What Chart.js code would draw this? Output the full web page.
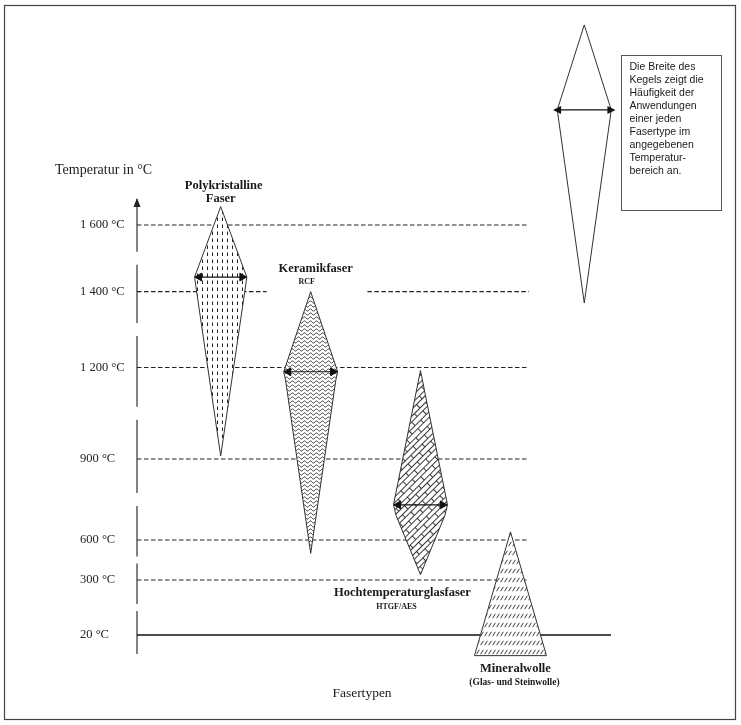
<!DOCTYPE html>
<html>
<head>
<meta charset="utf-8">
<script src="https://cdn.jsdelivr.net/npm/chart.js@4"></script>
<style>
  html, body { margin: 0; background: #fff; }
  #wrap { width: 741px; height: 725px; position: relative; }
</style>
</head>
<body>
<div id="wrap"><canvas id="myChart"></canvas></div>
<script>
// temperature axis (schematic, the printed steps are not evenly spaced)
var tempTicks = [20, 300, 600, 900, 1200, 1400, 1600];
var tempTickLabels = ['20 °C', '300 °C', '600 °C', '900 °C', '1 200 °C', '1 400 °C', '1 600 °C'];
var axisSteps = [0, 55, 95, 176, 267.5, 343.3, 410];

var fiberNames = ['Polykristalline', 'Keramikfaser', 'Hochtemperaturglasfaser', 'Mineralwolle'];
var fiberSubs = ['Faser', 'RCF', 'HTGF/AES', '(Glas- und Steinwolle)'];
var fiberSlot = [1, 2, 3.22, 4.22];

// cone outlines: temperature from top to bottom (°C) and half width (= frequency of use)
var polyTemp = [1655, 1444, 1405, 910];
var polyWidth = [0, 0.29, 0.27, 0];
var rcfTemp = [1400, 1186, 1160, 500];
var rcfWidth = [0, 0.30, 0.28, 0];
var htgfTemp = [1190, 730, 690, 340];
var htgfWidth = [0, 0.30, 0.27, 0];
var mwTemp = [630, -85];
var mwWidth = [0, 0.40];

// explanation cone in the corner
var legendSlot = 5.04;
var legendTemp = [2200, 1945, 1370];
var legendWidth = [0, 0.30, 0];
var legendText = ['Die Breite des', 'Kegels zeigt die', 'Häufigkeit der', 'Anwendungen',
  'einer jeden', 'Fasertype im', 'angegebenen', 'Temperatur-', 'bereich an.'];

// reference lines across the chart
var dashedTemps = [1600, 1200, 900, 600, 300];

function toAxis(t) {
  var i = 0;
  while (i < tempTicks.length - 2 && t > tempTicks[i + 1]) i++;
  var k = (axisSteps[i + 1] - axisSteps[i]) / (tempTicks[i + 1] - tempTicks[i]);
  return axisSteps[i] + (t - tempTicks[i]) * k;
}

function cone(slot, temps, widths) {
  var pts = [];
  for (var i = 0; i < temps.length; i++) pts.push({x: slot + widths[i], y: toAxis(temps[i])});
  for (var j = temps.length - 1; j >= 0; j--) pts.push({x: slot - widths[j], y: toAxis(temps[j])});
  return pts;
}

function arrow(slot, temps, widths, f) {
  var m = widths.indexOf(Math.max.apply(null, widths));
  var y = toAxis(temps[m]);
  return [{x: slot - widths[m] * f, y: y}, {x: slot + widths[m] * f, y: y}];
}

function tile(w, h, draw) {
  var c = document.createElement('canvas');
  c.width = w; c.height = h;
  var g = c.getContext('2d');
  g.fillStyle = '#fff';
  g.fillRect(0, 0, w, h);
  g.strokeStyle = '#222';
  g.lineWidth = 1;
  draw(g);
  return c;
}

var pctx = document.createElement('canvas').getContext('2d');

var dashPattern = pctx.createPattern(tile(5, 7, function (g) {
  g.beginPath(); g.moveTo(2.5, 0.5); g.lineTo(2.5, 4); g.stroke();
}), 'repeat');

var wavePattern = pctx.createPattern(tile(6, 4, function (g) {
  g.lineWidth = 0.9;
  g.beginPath();
  for (var x = 0; x <= 6; x += 0.5) {
    var y = 2 + Math.sin(x / 6 * Math.PI * 2) * 1.1;
    if (x === 0) g.moveTo(x, y); else g.lineTo(x, y);
  }
  g.stroke();
}), 'repeat');

var brickPattern = pctx.createPattern(tile(16, 9, function (g) {
  g.lineWidth = 0.9;
  g.beginPath();
  g.moveTo(0, 0.5); g.lineTo(16, 0.5);
  g.moveTo(0, 4.5); g.lineTo(16, 4.5);
  g.moveTo(0.5, 0.5); g.lineTo(0.5, 4.5);
  g.moveTo(8.5, 4.5); g.lineTo(8.5, 9);
  g.stroke();
}), 'repeat');
brickPattern.setTransform(new DOMMatrix().rotate(-45));

var slashPattern = pctx.createPattern(tile(4, 9, function (g) {
  g.lineWidth = 0.9;
  g.beginPath(); g.moveTo(0.7, 6.2); g.lineTo(3.3, 1.8); g.stroke();
}), 'repeat');

var xMin = 0.07, xMax = 5.337, lineEnd = 4.426;

function hLine(t, x0, x1) {
  return [{x: x0, y: toAxis(t)}, {x: x1, y: toAxis(t)}];
}

function shapeSet(label, pts, fillColor) {
  return {
    label: label, data: pts, order: 1,
    borderColor: '#333', borderWidth: 1, backgroundColor: fillColor,
    fill: 'shape', pointRadius: 0, tension: 0, clip: false
  };
}

function arrowSet(pts, heads) {
  return {
    data: pts, order: 0, borderColor: '#111', borderWidth: 1.2,
    pointRadius: heads ? 4.5 : 0, pointStyle: 'triangle', pointBackgroundColor: '#111',
    pointBorderColor: '#111', pointBorderWidth: 1, fill: false, clip: false,
    pointRotation: function (c) { return c.dataIndex === 0 ? -90 : 90; }
  };
}

var datasets = [
  arrowSet(arrow(fiberSlot[0], polyTemp, polyWidth, 0.82), true),
  arrowSet(arrow(fiberSlot[1], rcfTemp, rcfWidth, 0.82), true),
  arrowSet(arrow(fiberSlot[2], htgfTemp, htgfWidth, 0.82), true),
  arrowSet(arrow(legendSlot, legendTemp, legendWidth, 0.97), false),
  shapeSet(fiberNames[0], cone(fiberSlot[0], polyTemp, polyWidth), dashPattern),
  shapeSet(fiberNames[1], cone(fiberSlot[1], rcfTemp, rcfWidth), wavePattern),
  shapeSet(fiberNames[2], cone(fiberSlot[2], htgfTemp, htgfWidth), brickPattern),
  shapeSet(fiberNames[3], cone(fiberSlot[3], mwTemp, mwWidth), slashPattern),
  shapeSet('Legende', cone(legendSlot, legendTemp, legendWidth), '#fff')
];

dashedTemps.forEach(function (t) {
  datasets.push({
    data: hLine(t, xMin, lineEnd), order: 2, borderColor: '#222', borderWidth: 1.2,
    borderDash: [4.5, 2.5], pointRadius: 0, fill: false, clip: false
  });
});
// 1 400 °C line is interrupted behind the label "Keramikfaser"
datasets.push({
  data: [{x: xMin, y: toAxis(1400)}, {x: 1.51, y: toAxis(1400)}, {x: 2, y: null},
         {x: 2.63, y: toAxis(1400)}, {x: lineEnd, y: toAxis(1400)}],
  order: 2, borderColor: '#222', borderWidth: 1.2, borderDash: [4.5, 2.5],
  pointRadius: 0, fill: false, clip: false
});
datasets.push({
  data: hLine(20, xMin, xMax), order: 2, borderColor: '#111', borderWidth: 1.5,
  pointRadius: 0, fill: false, clip: false
});

function say(ctx, str, x, y, font, align) {
  ctx.font = font;
  ctx.textAlign = align || 'center';
  ctx.textBaseline = 'middle';
  ctx.fillText(str, x, y);
}

function head(ctx, x, y, dir, r) {
  ctx.beginPath();
  ctx.moveTo(x + dir * r, y);
  ctx.lineTo(x - dir * r * 0.6, y - r * 0.8);
  ctx.lineTo(x - dir * r * 0.6, y + r * 0.8);
  ctx.closePath();
  ctx.fill();
}

var decor = {
  id: 'decor',
  beforeDraw: function (chart) {
    var ctx = chart.ctx;
    ctx.save();
    ctx.fillStyle = '#fff';
    ctx.fillRect(0, 0, chart.width, chart.height);
    ctx.restore();
  },
  beforeDatasetsDraw: function (chart) {
    var ctx = chart.ctx, area = chart.chartArea, ys = chart.scales.y;
    var x = area.left;
    var marks = tempTicks.map(function (t) { return ys.getPixelForValue(toAxis(t)); });
    marks.sort(function (a, b) { return a - b; });
    ctx.save();
    ctx.strokeStyle = '#333';
    ctx.lineWidth = 1.2;
    ctx.beginPath();
    var cur = area.top;
    for (var i = 0; i < marks.length - 1; i++) {
      var mid = (marks[i] + marks[i + 1]) / 2;
      var gap = (marks[i + 1] - marks[i]) < 60 ? 7 : 13;
      ctx.moveTo(x, cur); ctx.lineTo(x, mid - gap / 2);
      cur = mid + gap / 2;
    }
    ctx.moveTo(x, cur); ctx.lineTo(x, area.bottom - 3);
    ctx.stroke();
    ctx.fillStyle = '#222';
    ctx.beginPath();
    ctx.moveTo(x, area.top - 1);
    ctx.lineTo(x - 3.5, area.top + 8);
    ctx.lineTo(x + 3.5, area.top + 8);
    ctx.closePath();
    ctx.fill();
    ctx.restore();
  },
  afterDraw: function (chart) {
    var ctx = chart.ctx, area = chart.chartArea;
    var xs = chart.scales.x, ys = chart.scales.y;
    var px = function (i) { return xs.getPixelForValue(fiberSlot[i]); };
    var top = function (t) { return ys.getPixelForValue(toAxis(t[0])); };
    var bot = function (t) { return ys.getPixelForValue(toAxis(t[t.length - 1])); };
    var big = 'bold 12.5px "Liberation Serif"';
    ctx.save();
    ctx.fillStyle = '#1a1a1a';

    say(ctx, 'Temperatur in °C', area.left - 82, area.top - 29, '14px "Liberation Serif"', 'left');
    say(ctx, 'Fasertypen', area.left + 225, area.bottom + 36, '13.5px "Liberation Serif"');

    say(ctx, fiberNames[0], px(0) + 3, top(polyTemp) - 21, big);
    say(ctx, fiberSubs[0], px(0), top(polyTemp) - 8, big);
    say(ctx, fiberNames[1], px(1) + 5, top(rcfTemp) - 23, big);
    say(ctx, fiberSubs[1], px(1) - 4, top(rcfTemp) - 10, 'bold 8px "Liberation Serif"');
    say(ctx, fiberNames[2], px(2) - 18, bot(htgfTemp) + 18, big);
    say(ctx, fiberSubs[2], px(2) - 24, bot(htgfTemp) + 32, 'bold 8px "Liberation Serif"');
    say(ctx, fiberNames[3], px(3) + 5, bot(mwTemp) + 13, big);
    say(ctx, fiberSubs[3], px(3) + 4, bot(mwTemp) + 27, 'bold 9.5px "Liberation Serif"');

    // arrow heads of the explanation cone (it sits above the plot area)
    var lm = chart.getDatasetMeta(3).data;
    ctx.fillStyle = '#111';
    head(ctx, lm[0].x, lm[0].y, -1, 5);
    head(ctx, lm[1].x, lm[1].y, 1, 5);

    // explanation box
    ctx.fillStyle = '#1a1a1a';
    ctx.strokeStyle = '#555';
    ctx.lineWidth = 1;
    ctx.strokeRect(621.5, 55.5, 100, 155);
    legendText.forEach(function (s, i) {
      say(ctx, s, 629.5, 67 + i * 13.05, '10.5px "Liberation Sans"', 'left');
    });

    // page frame
    ctx.strokeStyle = '#444';
    ctx.lineWidth = 1.2;
    ctx.strokeRect(4.5, 5.5, 731, 714);
    ctx.restore();
  }
};

Chart.defaults.font.family = '"Liberation Serif"';
Chart.defaults.color = '#1a1a1a';

var ctx = document.getElementById('myChart').getContext('2d');
var myChart = new Chart(ctx, {
  type: 'line',
  data: { datasets: datasets },
  options: {
    responsive: true,
    maintainAspectRatio: false,
    animation: false,
    events: [],
    layout: { padding: { left: 80, right: 130, top: 199, bottom: 68 } },
    plugins: {
      legend: { display: false },
      tooltip: { enabled: false }
    },
    scales: {
      x: {
        type: 'linear', min: xMin, max: xMax, display: false
      },
      y: {
        type: 'linear', min: -22, max: 436,
        grid: { display: false, drawTicks: false },
        border: { display: false },
        afterBuildTicks: function (s) {
          s.ticks = tempTicks.map(function (t) { return {value: toAxis(t)}; });
        },
        afterFit: function (s) { s.width = 57; },
        ticks: {
          autoSkip: false, crossAlign: 'far', padding: 0,
          font: { size: 12.5 }, color: '#222',
          callback: function (v, i) { return tempTickLabels[i]; }
        }
      }
    }
  },
  plugins: [decor]
});
</script>
</body>
</html>
